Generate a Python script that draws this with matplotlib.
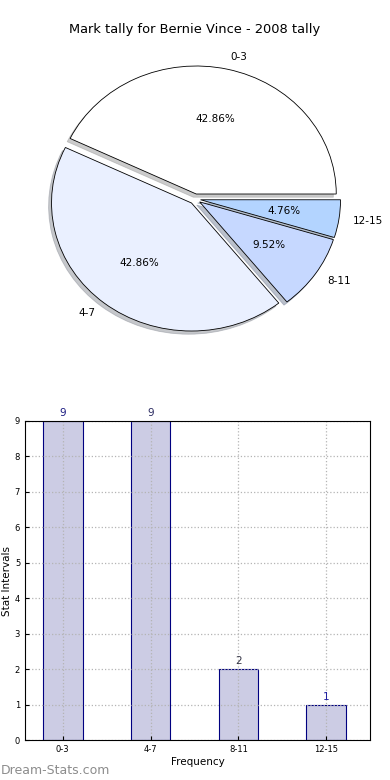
import matplotlib
matplotlib.use("Agg")
import matplotlib.pyplot as plt

categories = ["0-3", "4-7", "8-11", "12-15"]
counts = [9, 9, 2, 1]
pie_colors = ["#ffffff", "#eaf0ff", "#c6d8ff", "#b3d4ff"]
bar_label_colors = ["#1a1a80", "#2a2a60", "#333344", "#1f1fa0"]
yticks = list(range(0, 10))
title = "Mark tally for Bernie Vince - 2008 tally"

fig = plt.figure(figsize=(3.9, 7.8), dpi=100)

# Pie
W, H = 390.0, 780.0
axp = fig.add_axes([20 / W, 1 - 359 / H, 350 / W, 320 / H])
wedges, texts, autotexts = axp.pie(
    counts, labels=categories, colors=pie_colors, explode=[0.04] * 4,
    autopct="%.2f%%", shadow=dict(ox=-0.015, oy=-0.018, shade=0.4), startangle=0,
    wedgeprops=dict(edgecolor="black", linewidth=0.6),
    textprops=dict(fontsize=7.5))
axp.set_aspect("auto")
axp.set_xlim(-1.25, 1.25)
axp.set_ylim(-1.25, 1.25)
fig.text(0.5, 1 - 30 / H, title, ha="center", va="center", fontsize=9.4)

# Bars
axb = fig.add_axes([25 / W, 1 - 740 / H, 345 / W, 319 / H])
x = list(range(len(categories)))
bars = axb.bar(x, counts, width=0.45, color="#ccccE4", edgecolor="#000080", linewidth=0.8)
axb.set_xlim(-0.43, 3.5)
axb.set_ylim(0, 9)
axb.set_yticks(yticks)
axb.set_xticks(x)
axb.set_xticklabels(categories)
axb.tick_params(labelsize=6, direction="in", length=3)
axb.grid(True, linestyle=":", color="#b4b4b4", linewidth=0.9)
axb.set_axisbelow(False)
for s in axb.spines.values():
    s.set_zorder(5)
axb.set_xlabel("Frequency", fontsize=7.5, labelpad=2)
axb.set_ylabel("Stat Intervals", fontsize=7.5, labelpad=2)
for xi, c, col in zip(x, counts, bar_label_colors):
    axb.annotate(str(c), (xi, c), xytext=(0, 2), textcoords="offset points",
                 ha="center", va="bottom", fontsize=7.5, color=col)

fig.text(0.002, 1 - 771 / H, "Dream-Stats.com", ha="left", va="center",
         fontsize=9, color="#8c8c8c")

fig.savefig("out.png", dpi=100)
